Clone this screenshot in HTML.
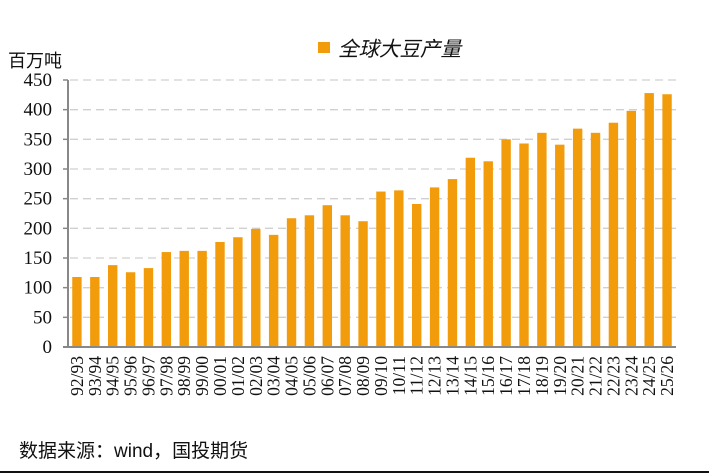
<!DOCTYPE html>
<html><head><meta charset="utf-8"><style>
html,body{margin:0;padding:0;background:#fff;}
svg{display:block;}
</style></head><body>
<svg width="709" height="473" xmlns="http://www.w3.org/2000/svg">
<rect width="709" height="473" fill="#fff"/>
<g id="grid" stroke="#d0d0d0" stroke-width="1.3" stroke-dasharray="8,5"></g>
<g id="bars" fill="#F29C0C"></g>
<line x1="68" y1="80" x2="68" y2="347" stroke="#888" stroke-width="2"/>
<line x1="63" y1="347" x2="676" y2="347" stroke="#888" stroke-width="2"/>
<g id="yt" font-family="Liberation Serif, serif" font-size="19" fill="#111" text-anchor="end"></g>
<g id="xt" font-family="Liberation Serif, serif" font-size="17.5" fill="#111"></g>
<text x="8" y="67" font-family="Liberation Sans, Noto Sans CJK SC, sans-serif" font-size="18" fill="#111">百万吨</text>
<rect x="318" y="42" width="12" height="11" fill="#F29C0C"/>
<text x="338" y="56" font-family="Liberation Sans, Noto Sans CJK SC, sans-serif" font-size="20.5" font-style="italic" fill="#111">全球大豆产量</text>
<text x="19" y="457" font-family="Liberation Sans, Noto Sans CJK SC, sans-serif" font-size="19" fill="#111">数据来源：wind，国投期货</text>
<line x1="0" y1="472" x2="709" y2="472" stroke="#111" stroke-width="2"/>
</svg>
<script>
var ns="http://www.w3.org/2000/svg";
var vals=[118,118,138,126,133,160,162,162,177,185,199,189,217,222,239,222,212,262,264,241,269,283,319,313,350,343,361,341,368,361,378,398,428,426];
var y0=347,k=(347-80)/450,x0=68,w=(676-68)/34;
var g=document.getElementById('grid'),b=document.getElementById('bars'),yt=document.getElementById('yt'),xt=document.getElementById('xt');
for(var v=0;v<=450;v+=50){var y=y0-v*k;
 if(v>0){var l=document.createElementNS(ns,'line');l.setAttribute('x1',70);l.setAttribute('x2',676);l.setAttribute('y1',y);l.setAttribute('y2',y);g.appendChild(l);}
 var tk=document.createElementNS(ns,'line');tk.setAttribute('x1',63);tk.setAttribute('x2',68);tk.setAttribute('y1',y);tk.setAttribute('y2',y);tk.setAttribute('stroke','#888');tk.setAttribute('stroke-width','1.5');b.parentNode.appendChild(tk);
 var t=document.createElementNS(ns,'text');t.setAttribute('x',52);t.setAttribute('y',y+6);t.textContent=v;yt.appendChild(t);}
for(var i=0;i<34;i++){var cx=x0+w*(i+0.5);var h=vals[i]*k;
 var r=document.createElementNS(ns,'rect');r.setAttribute('x',cx-4.7);r.setAttribute('width',9.4);r.setAttribute('y',y0-h);r.setAttribute('height',h);b.appendChild(r);
 var a=(92+i)%100,c=(93+i)%100;var s=(a<10?'0':'')+a+'/'+(c<10?'0':'')+c;
 var t=document.createElementNS(ns,'text');t.setAttribute('transform','translate('+(cx+6)+',356) rotate(-90)');t.setAttribute('text-anchor','end');t.textContent=s;xt.appendChild(t);}
</script>
</body></html>
